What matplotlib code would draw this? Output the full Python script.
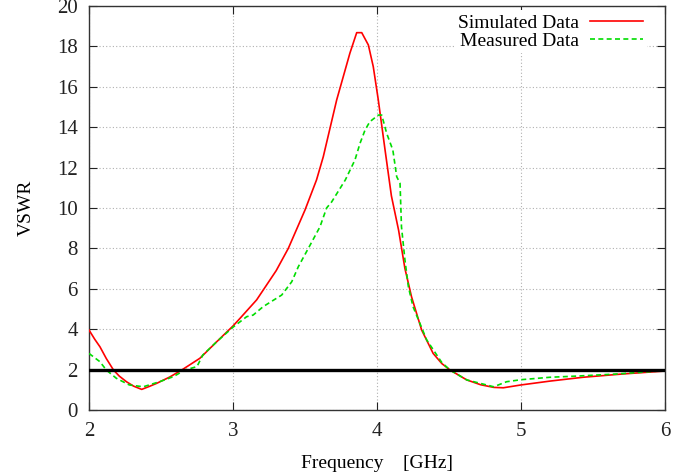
import numpy as np
import matplotlib.pyplot as plt

plt.rcParams['font.family'] = ['Liberation Serif', 'DejaVu Serif']

# simulated VSWR (red)
freq_sim = [2.0, 2.04, 2.076, 2.12, 2.17, 2.21, 2.26, 2.31, 2.366, 2.42, 2.47,
            2.56, 2.644, 2.77, 2.887, 3.0, 3.049, 3.164, 3.21, 3.3, 3.384, 3.5,
            3.58, 3.627, 3.72, 3.812, 3.859, 3.894, 3.94, 3.974, 4.009, 4.056,
            4.10, 4.15, 4.194, 4.24, 4.31, 4.39, 4.45, 4.507, 4.623, 4.72, 4.81,
            4.877, 5.0, 5.2, 5.43, 5.7, 6.0]
vswr_sim = [3.96, 3.5, 3.13, 2.55, 1.98, 1.68, 1.40, 1.18, 1.02, 1.17, 1.32,
            1.63, 1.98, 2.56, 3.38, 4.16, 4.54, 5.45, 5.94, 6.9, 8.0, 9.9,
            11.39, 12.54, 15.35, 17.67, 18.68, 18.68, 18.07, 17.0, 15.35, 12.87,
            10.6, 8.9, 7.0, 5.6, 3.96, 2.8, 2.3, 1.98, 1.49, 1.25, 1.12,
            1.10, 1.24, 1.43, 1.62, 1.78, 1.93]

# measured VSWR (green)
freq_meas = [2.0, 2.076, 2.12, 2.19, 2.28, 2.377, 2.49, 2.585, 2.667, 2.75, 2.79,
             2.887, 3.0, 3.095, 3.14, 3.21, 3.338, 3.408, 3.454, 3.523, 3.604,
             3.65, 3.685, 3.78, 3.847, 3.882, 3.917, 3.95, 4.009, 4.033, 4.067,
             4.11, 4.137, 4.16, 4.17, 4.194, 4.218, 4.25, 4.345, 4.45, 4.507,
             4.623, 4.81, 4.90, 5.0, 5.2, 5.39, 5.66, 6.0]
vswr_meas = [2.8, 2.39, 1.98, 1.57, 1.24, 1.15, 1.40, 1.65, 1.98, 2.15, 2.72,
             3.38, 4.1, 4.62, 4.70, 5.12, 5.69, 6.35, 7.1, 8.0, 9.07,
             10.0, 10.3, 11.39, 12.38, 13.2, 13.86, 14.27, 14.6, 14.6, 13.7,
             12.87, 11.55, 11.22, 9.07, 7.43, 6.1, 5.12, 3.47, 2.35, 1.98,
             1.49, 1.15, 1.40, 1.50, 1.62, 1.68, 1.78, 1.95]

ref_level = 2

fig = plt.figure(figsize=(6.98, 4.76), dpi=100)
ax = fig.add_axes([89/698, 66/476, (665-89)/698, (410-6)/476])

ax.plot(freq_sim, vswr_sim, color='#ff0000', lw=1.2, label='Simulated Data', zorder=3)
ax.plot(freq_meas, vswr_meas, color='#00dd00', lw=1.2, dashes=(3, 2),
        label='Measured Data', zorder=3)
ax.axhline(ref_level, color='black', lw=2.4, zorder=4)

ax.set_xlim(2, 6)
ax.set_ylim(0, 20)
ax.set_xticks(np.arange(2, 7, 1))
ax.set_yticks(np.arange(0, 21, 2))
ax.grid(True, color='#b0b0b0', ls=(0, (1, 2)), lw=0.8)
ax.tick_params(direction='in', length=6, width=0.8, top=True, right=True,
               labelsize=15, colors='#222222')
ax.tick_params(axis='x', pad=9)
ax.tick_params(axis='y', pad=8)
for s in ax.spines.values():
    s.set_linewidth(1.0)
    s.set_color('#333333')

ax.set_xlabel('Frequency    [GHz]', fontsize=14, labelpad=10)
ax.set_ylabel('VSWR', fontsize=14, labelpad=16)

leg = ax.legend(loc='upper right', bbox_to_anchor=(0.968, 0.989),
                markerfirst=False, fontsize=14, frameon=True,
                handlelength=2.7, handletextpad=0.6, borderaxespad=0,
                borderpad=0.2, labelspacing=0.0, fancybox=False)
leg.get_frame().set_edgecolor('none')
leg.get_frame().set_facecolor('white')
leg.get_frame().set_alpha(1)
for t in leg.get_texts():
    t.set_ha('right')

fig.savefig('out.png', dpi=100)
